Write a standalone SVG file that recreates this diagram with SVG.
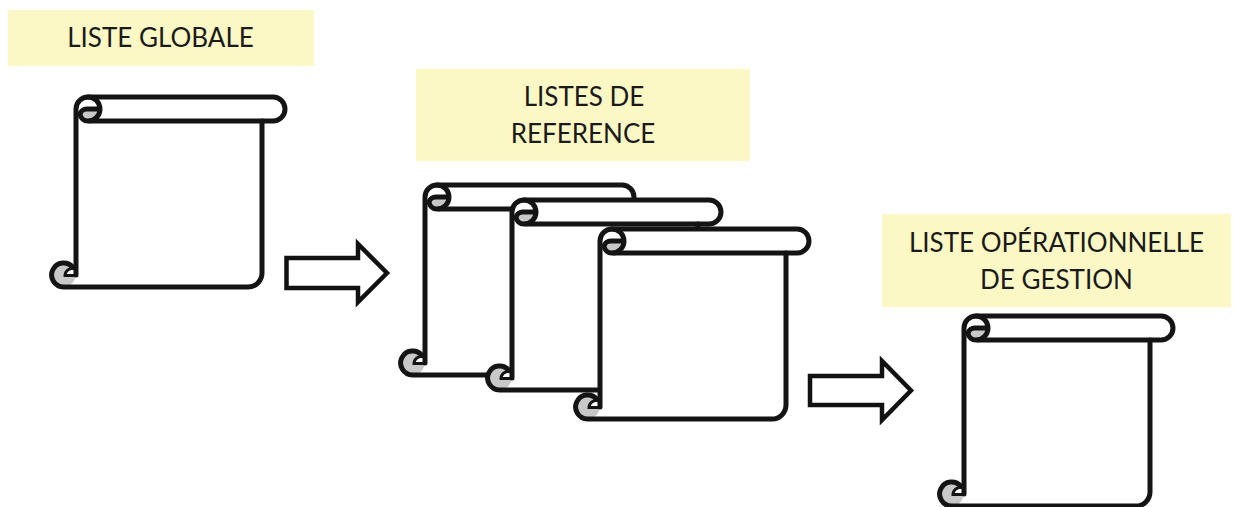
<svg xmlns="http://www.w3.org/2000/svg" xmlns:xlink="http://www.w3.org/1999/xlink" width="1234" height="507" viewBox="0 0 1234 507">
<style>
.band{fill:#fcf8c5}
.lbl{font-family:"Lato","Noto Sans",sans-serif;font-size:26px;fill:#1a1a1a;text-anchor:middle}
.s{fill:none;stroke:#141414;stroke-width:5;stroke-linejoin:round;stroke-linecap:round}
.h{fill:none;stroke:#141414;stroke-width:3;stroke-linecap:butt}
.w{fill:#fff;stroke:none}
.g{fill:#c8c8c8;stroke:none}
.arr{fill:#fff;stroke:#111;stroke-width:4.500;stroke-linejoin:miter}
</style>
<defs>
<g id="scroll">
<path class="w" d="M0 12A12 12 0 0 1 12 0H197A12 12 0 0 1 197 24H186V178A12 12 0 0 1 174 190H-12V168H0Z"/>
<path class="g" d="M11 12H24A12 12 0 0 1 12 24A8 8 0 0 1 4 17A7 7 0 0 1 11 12Z"/>
<circle class="g" cx="-12.500" cy="178" r="12"/>
<path class="w" d="M-1 171C-7 171 -11 174 -11 178H-1Z"/>
<path class="s" d="M0 178V12A12 12 0 0 1 12 0H197A12 12 0 0 1 197 24H14"/>
<path class="s" d="M12 0A12 12 0 0 1 12 24A8 8 0 0 1 4 17A7 7 0 0 1 11 12H23"/>
<path class="s" d="M186 24V176A14 14 0 0 1 172 190H-12.500A12 12 0 1 1 -3 170.500"/>
<path class="h" d="M-2 171C-7 171 -11 174 -11 178.500H-1"/>
</g>
</defs>
<g id="label-globale"><rect class="band" x="8" y="10" width="306" height="56"/><text class="lbl" x="160.500" y="47">LISTE GLOBALE</text></g>
<g id="label-reference"><rect class="band" x="416" y="69" width="334" height="92"/><text class="lbl" x="584" y="106">LISTES DE</text><text class="lbl" x="583" y="143">REFERENCE</text></g>
<g id="label-operationnelle"><rect class="band" x="882" y="214" width="349" height="93"/><text class="lbl" x="1056.500" y="252">LISTE OPÉRATIONNELLE</text><text class="lbl" x="1056.500" y="289">DE GESTION</text></g>
<g id="scroll-globale"><use xlink:href="#scroll" href="#scroll" x="76" y="97"/></g>
<g id="scroll-reference-1"><use xlink:href="#scroll" href="#scroll" x="425" y="185"/></g>
<g id="scroll-reference-2"><use xlink:href="#scroll" href="#scroll" x="512" y="200"/></g>
<g id="scroll-reference-3"><use xlink:href="#scroll" href="#scroll" x="600" y="229"/></g>
<g id="scroll-operationnelle"><use xlink:href="#scroll" href="#scroll" x="964" y="316"/></g>
<g id="connectors">
<path class="arr" d="M286.500 258H358V244L387 273L358 302V288H286.500Z"/>
<path class="arr" d="M810 376H882V361L911 390.500L882 420V405H810Z"/>
</g>
</svg>
